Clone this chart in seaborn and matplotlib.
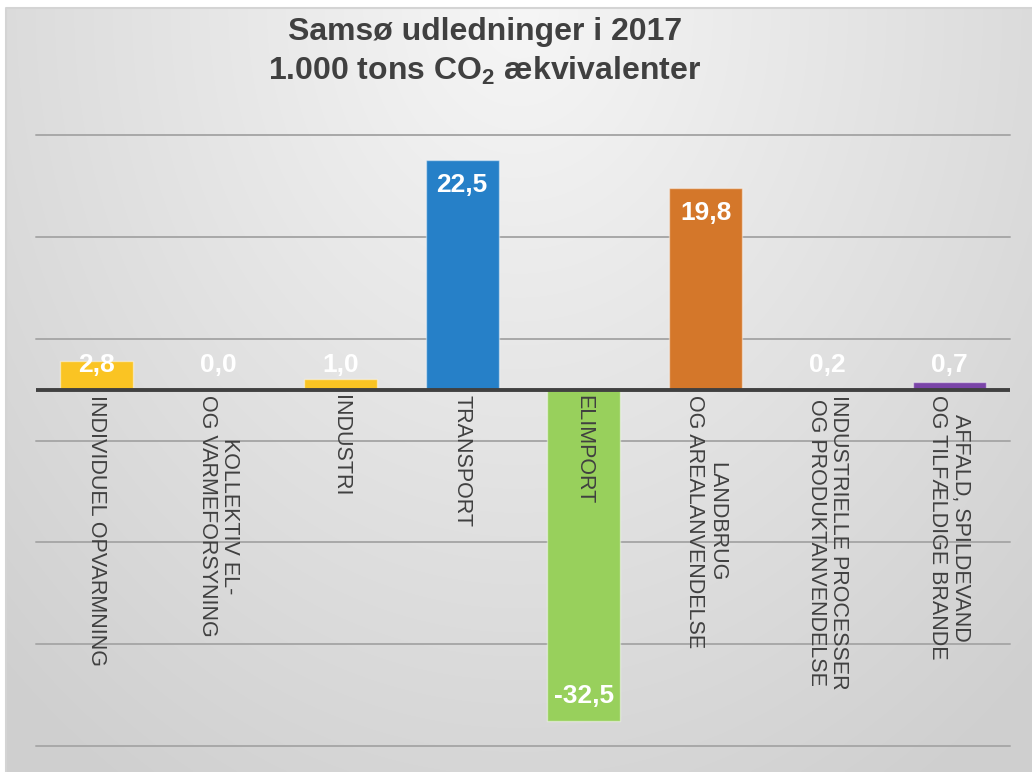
import numpy as np
import pandas as pd
import matplotlib
matplotlib.use("Agg")
import matplotlib.pyplot as plt
import seaborn as sns

# data
categories = ["INDIVIDUEL OPVARMNING", "KOLLEKTIV EL-\nOG VARMEFORSYNING", "INDUSTRI",
              "TRANSPORT", "ELIMPORT", "LANDBRUG\nOG AREALANVENDELSE",
              "INDUSTRIELLE PROCESSER\nOG PRODUKTANVENDELSE",
              "AFFALD, SPILDEVAND\nOG TILFÆLDIGE BRANDE"]
values = [2.8, 0.0, 1.0, 22.5, -32.5, 19.8, 0.2, 0.7]
value_labels = ["2,8", "0,0", "1,0", "22,5", "-32,5", "19,8", "0,2", "0,7"]
colors = ["#FAC423", "#FAC423", "#FAC423", "#2680C8", "#98D05C", "#D4772A", "#A5A5A5", "#7A44A8"]

sns.set_theme(style="white")
plt.rcParams["font.family"] = ["Liberation Sans", "DejaVu Sans"]
plt.rcParams["mathtext.fontset"] = "custom"
plt.rcParams["mathtext.rm"] = "Liberation Sans:bold"
plt.rcParams["mathtext.default"] = "rm"

W, H = 1032, 772
fig = plt.figure(figsize=(W / 100, H / 100), dpi=100)
fig.patch.set_facecolor("white")

# gradient background of the chart area
bg = fig.add_axes([0, 0, 1, 1], zorder=-5)
yy, xx = np.mgrid[0:1:400j, 0:1:500j]
r = np.sqrt(((xx - 0.5) / 0.6) ** 2 + yy ** 2)
shade = 0.965 - 0.15 * np.clip(r, 0, 1.2) / 1.2
bg.imshow(np.dstack([shade] * 3), extent=[6, W, H, 8], aspect="auto", interpolation="bilinear")
bg.plot([6, 6, W], [H, 8, 8], color="#d4d4d4", lw=1.5)
bg.set_xlim(0, W)
bg.set_ylim(H, 0)
bg.axis("off")

ax = fig.add_axes([36 / W, 1 - 746 / H, (1010 - 36) / W, (746 - 135) / H])
ax.patch.set_alpha(0)

df = pd.DataFrame({"cat": categories, "val": values})
sns.barplot(data=df, x="cat", y="val", hue="cat", palette=colors, legend=False,
            width=0.6, ax=ax, saturation=1, edgecolor=(1, 1, 1, 0.45), linewidth=1, zorder=3)

ax.set_ylim(-35, 25)
ax.set_xlim(-0.5, len(categories) - 0.5)
for g in [25, 15, 5, -5, -15, -25, -35]:
    ax.axhline(g, color="#a8a8a8", lw=1.4, zorder=1, clip_on=False)
ax.axhline(0, color="#404040", lw=2.8, zorder=4)

for s in ax.spines.values():
    s.set_visible(False)
ax.set_xticks([])
ax.set_yticks([])
ax.set_xlabel("")
ax.set_ylabel("")

off = 2.45
for i, (v, lab) in enumerate(zip(values, value_labels)):
    y = max(v - off, off) if v >= 0 else v + off
    ax.text(i, y, lab, ha="center", va="center", color="white", fontsize=19,
            fontweight="bold", zorder=5)
    ax.annotate(categories[i], xy=(i, 0), xytext=(0, -4), textcoords="offset points",
                rotation=270, ha="center", va="top", multialignment="center",
                fontsize=15.5, color="#404040", zorder=5, linespacing=1.1)

fig.text(485 / W, 1 - 32 / H, "Samsø udledninger i 2017", ha="center", va="center",
         fontsize=23, fontweight="bold", color="#404040")
fig.text(485 / W, 1 - 71 / H, "1.000 tons CO$_2$ ækvivalenter", ha="center", va="center",
         fontsize=23, fontweight="bold", color="#404040")

fig.savefig("out.png", dpi=100)
